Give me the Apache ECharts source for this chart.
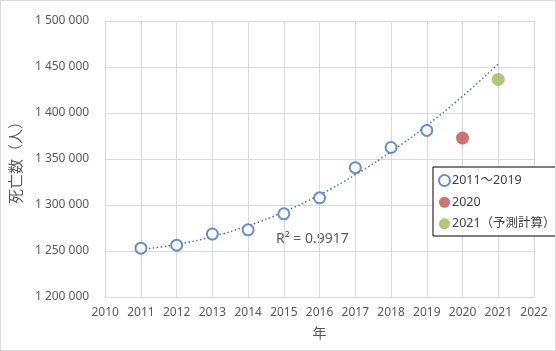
<!DOCTYPE html>
<html>
<head>
<meta charset="utf-8">
<script src="https://cdn.jsdelivr.net/npm/echarts@6/dist/echarts.min.js"></script>
<style>
html, body { margin: 0; padding: 0; background: #fff; }
#main { width: 554px; height: 349px; border: 1px solid #d9d9d9; }
</style>
</head>
<body>
<div id="main"></div>
<script>
// 2011〜2019 実績
var years = [2011, 2012, 2013, 2014, 2015, 2016, 2017, 2018, 2019];
var deaths = [1253066, 1256359, 1268436, 1273004, 1290444, 1307748, 1340567, 1362470, 1381093];
// 2020
var year2020 = [2020];
var deaths2020 = [1372755];
// 2021 予測計算
var year2021 = [2021];
var deaths2021 = [1436500];
// 近似曲線（2次）
var trendYears = [2011, 2012, 2013, 2014, 2015, 2016, 2017, 2018, 2019, 2020, 2021];
var trendValues = [1251890, 1257090, 1265610, 1277450, 1292620, 1311100, 1332910, 1358030, 1386480, 1418260, 1453350];
var yTicks = [1200000, 1250000, 1300000, 1350000, 1400000, 1450000, 1500000];

var fontFamily = '"Noto Sans", "Noto Sans CJK JP", sans-serif';
var gray = '#595959';

function pairs(xs, ys) {
    return xs.map(function (x, i) { return [x, ys[i]]; });
}

var chart = echarts.init(document.getElementById('main'));
var option = {
    backgroundColor: '#fff',
    animation: false,
    textStyle: { fontFamily: fontFamily },
    grid: { left: 104, right: 21, top: 20, bottom: 53 },
    legend: {
        orient: 'vertical',
        left: 432,
        top: 166,
        padding: [7, 8, 6, 5],
        itemGap: 9,
        itemWidth: 11,
        itemHeight: 11,
        borderColor: '#000',
        borderWidth: 1,
        backgroundColor: '#fff',
        textStyle: { fontSize: 12.5, color: '#404040', padding: [0, 0, 0, -3] },
        data: ['2011～2019', '2020', '2021（予測計算）']
    },
    xAxis: {
        type: 'value',
        min: 2010,
        max: 2022,
        interval: 1,
        name: '年',
        nameLocation: 'middle',
        nameGap: 30,
        nameTextStyle: { fontSize: 14, color: gray },
        axisLine: { show: true, lineStyle: { color: '#d9d9d9' } },
        axisTick: { show: false },
        axisLabel: {
            fontSize: 12,
            color: gray,
            margin: 10,
            formatter: function (v) { return String(v); }
        },
        splitLine: { show: true, lineStyle: { color: '#d9d9d9' } }
    },
    yAxis: {
        type: 'value',
        min: yTicks[0],
        max: yTicks[yTicks.length - 1],
        interval: 50000,
        name: '死亡数（人）',
        nameLocation: 'middle',
        nameGap: 78,
        nameTextStyle: { fontSize: 15, color: gray },
        axisLine: { show: false },
        axisTick: { show: false },
        axisLabel: {
            fontSize: 12,
            color: gray,
            margin: 16,
            formatter: function (v) {
                return String(v).replace(/\B(?=(\d{3})+(?!\d))/g, ' ');
            }
        },
        splitLine: { show: true, lineStyle: { color: '#d9d9d9' } }
    },
    series: [{
        name: 'trend',
        type: 'line',
        smooth: true,
        symbol: 'none',
        silent: true,
        lineStyle: { color: '#4472c4', width: 1.5, type: [1.5, 2.5] },
        data: pairs(trendYears, trendValues),
        z: 1
    }, {
        name: '2011～2019',
        type: 'scatter',
        symbol: 'emptyCircle',
        symbolSize: 11,
        itemStyle: { color: '#4472c4', borderColor: '#4472c4', borderWidth: 3 },
        data: pairs(years, deaths),
        z: 3
    }, {
        name: '2020',
        type: 'scatter',
        symbol: 'circle',
        symbolSize: 13,
        itemStyle: { color: '#c0504d' },
        data: pairs(year2020, deaths2020),
        z: 3
    }, {
        name: '2021（予測計算）',
        type: 'scatter',
        symbol: 'circle',
        symbolSize: 13,
        itemStyle: { color: '#9bbb59' },
        data: pairs(year2021, deaths2021),
        z: 3
    }],
    graphic: [{
        type: 'text',
        left: 275,
        top: 231,
        style: { text: 'R² = 0.9917', fontSize: 14, fill: gray, fontFamily: fontFamily }
    }]
};
chart.setOption(option);
</script>
</body>
</html>
